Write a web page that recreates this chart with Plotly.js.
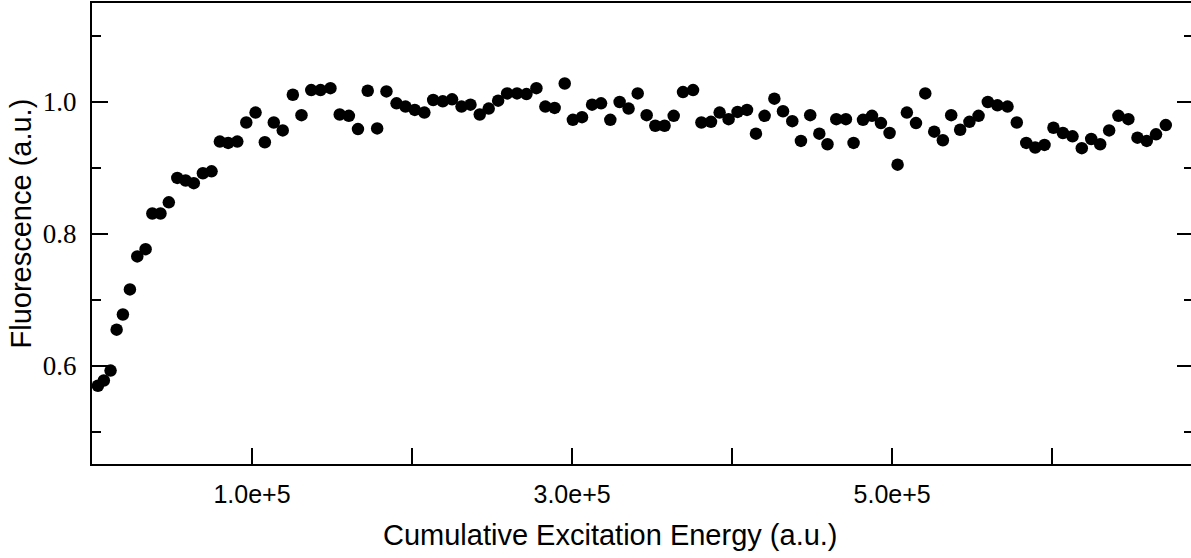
<!DOCTYPE html>
<html>
<head>
<meta charset="utf-8">
<script src="https://cdn.plot.ly/plotly-3.0.1.min.js"></script>
<style>
html, body { margin: 0; padding: 0; overflow: hidden; background: #fff; }
#chart { width: 1194px; height: 558px; }
</style>
</head>
<body>
<div id="chart"></div>
<script>
// Cumulative excitation energy (a.u.)
const energy = [
  3700, 7400, 11600, 15400, 19300, 23700, 28300, 33500, 37700, 42800,
  48000, 53300, 58500, 63600, 69300, 74700, 79900, 85100, 90800, 96400,
  102200, 108000, 113600, 119200, 125500, 130900, 137000, 142800, 149000, 154800,
  160500, 166200, 172300, 178200, 184000, 190300, 195900, 201700, 207700, 213200,
  219200, 225000, 230900, 236500, 242300, 247900, 253800, 259400, 265600, 271500,
  277700, 283300, 289100, 295400, 300500, 306200, 312500, 318100, 323900, 329700,
  335300, 341000, 346600, 352000, 357800, 363500, 369300, 375600, 380800, 386800,
  392200, 397800, 403400, 409300, 414900, 420300, 426400, 431800, 437600, 443000,
  448800, 454500, 459600, 465100, 471100, 475900, 481800, 487400, 493000, 498400,
  503400, 509200, 514900, 520700, 526300, 531700, 536900, 542500, 548300, 554000,
  559800, 565800, 572100, 577900, 583800, 589400, 595200, 600800, 606700, 612700,
  618500, 624400, 630000, 635600, 641400, 647600, 653300, 659100, 664900, 671000
];
// Fluorescence (a.u.)
const fluorescence = [
  0.570, 0.578, 0.593, 0.655, 0.678, 0.716, 0.766, 0.777, 0.831, 0.831,
  0.848, 0.885, 0.881, 0.877, 0.892, 0.895, 0.940, 0.938, 0.940, 0.969,
  0.984, 0.939, 0.969, 0.957, 1.011, 0.980, 1.018, 1.018, 1.021, 0.981,
  0.979, 0.959, 1.017, 0.960, 1.016, 0.998, 0.993, 0.988, 0.984, 1.003,
  1.001, 1.004, 0.993, 0.996, 0.981, 0.990, 1.002, 1.013, 1.013, 1.012,
  1.021, 0.993, 0.991, 1.028, 0.973, 0.977, 0.996, 0.998, 0.973, 1.000,
  0.990, 1.013, 0.980, 0.964, 0.964, 0.979, 1.015, 1.018, 0.969, 0.970,
  0.984, 0.974, 0.985, 0.988, 0.952, 0.979, 1.005, 0.986, 0.971, 0.941,
  0.980, 0.952, 0.936, 0.974, 0.974, 0.938, 0.973, 0.979, 0.968, 0.953,
  0.905, 0.984, 0.968, 1.013, 0.955, 0.942, 0.980, 0.958, 0.970, 0.979,
  1.000, 0.995, 0.993, 0.969, 0.938, 0.931, 0.935, 0.961, 0.953, 0.948,
  0.930, 0.944, 0.936, 0.957, 0.979, 0.974, 0.946, 0.941, 0.951, 0.965
];

const xTickVals = [100000, 300000, 500000];
const xTickText = ['1.0e+5', '3.0e+5', '5.0e+5'];
const yTickVals = [0.6, 0.8, 1.0];
const yTickText = ['0.6', '0.8', '1.0'];

const xTitle = 'Cumulative Excitation Energy (a.u.)';
const yTitle = 'Fluorescence (a.u.)';

const trace = {
  type: 'scatter',
  mode: 'markers',
  x: energy,
  y: fluorescence,
  marker: { color: '#000', size: 12.5, line: { width: 0 } },
  hoverinfo: 'skip'
};

const layout = {
  width: 1194,
  height: 558,
  margin: { l: 92, r: 1, t: 3, b: 94, pad: 0 },
  paper_bgcolor: '#fff',
  plot_bgcolor: '#fff',
  showlegend: false,
  xaxis: {
    range: [0, 688000],
    showgrid: false,
    zeroline: false,
    showline: true,
    linecolor: '#000',
    linewidth: 2,
    mirror: true,
    ticks: 'inside',
    ticklen: 10,
    tickwidth: 1.5,
    tickcolor: '#000',
    tickmode: 'array',
    tickvals: xTickVals,
    ticktext: xTickText,
    ticklabelstandoff: 7,
    tickfont: { family: 'Liberation Sans, Arial, sans-serif', size: 25, color: '#000' },
    minor: { tickmode: 'linear', tick0: 0, dtick: 100000, ticks: 'inside', ticklen: 16, tickwidth: 1.5, tickcolor: '#000', showgrid: false }
  },
  yaxis: {
    range: [0.4515, 1.15],
    showgrid: false,
    zeroline: false,
    showline: true,
    linecolor: '#000',
    linewidth: 2,
    mirror: 'ticks',
    ticks: 'inside',
    ticklen: 16,
    tickwidth: 1.5,
    tickcolor: '#000',
    tickmode: 'array',
    tickvals: yTickVals,
    ticktext: yTickText,
    ticklabelstandoff: 8,
    tickfont: { family: 'Liberation Serif, Times New Roman, serif', size: 27, color: '#000' },
    minor: { tickmode: 'linear', tick0: 0.5, dtick: 0.1, ticks: 'inside', ticklen: 9, tickwidth: 1.5, tickcolor: '#000', showgrid: false }
  },
  annotations: [
    {
      text: xTitle, xref: 'paper', yref: 'paper', x: 0.471, y: 0,
      xanchor: 'center', yanchor: 'middle', yshift: -71, showarrow: false,
      font: { family: 'Liberation Sans, Arial, sans-serif', size: 29, color: '#000' }
    },
    {
      text: yTitle, xref: 'paper', yref: 'paper', x: 0, y: 0.5217,
      xanchor: 'center', yanchor: 'middle', xshift: -71, textangle: -90, showarrow: false,
      font: { family: 'Liberation Sans, Arial, sans-serif', size: 29, color: '#000' }
    }
  ]
};

Plotly.newPlot('chart', [trace], layout, { staticPlot: true, displayModeBar: false });
</script>
</body>
</html>
